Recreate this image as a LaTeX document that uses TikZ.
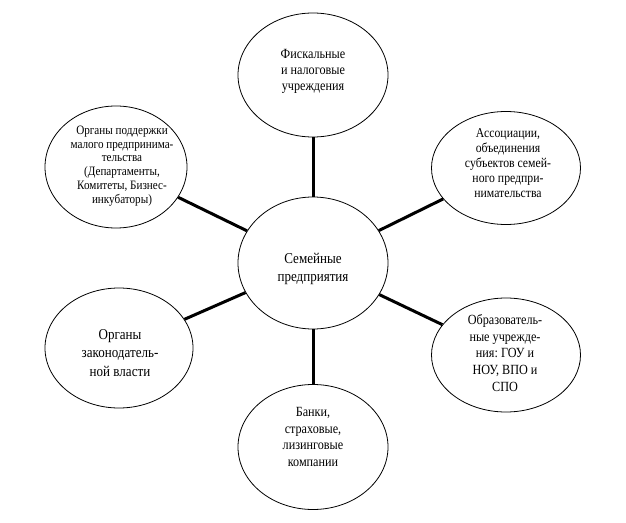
\documentclass[tikz,border=0pt]{standalone}
\usepackage{fontspec}
\setmainfont{Liberation Serif}[FakeStretch=0.87]
\frenchspacing
\usetikzlibrary{shapes.geometric}
\begin{document}
\begin{tikzpicture}[x=1bp,y=-1bp,
  ell/.style={draw=black, line width=0.8bp, shape=ellipse, inner sep=0pt},
  txt/.style={align=center, inner sep=0pt},
  conn/.style={draw=black, line width=3bp}]
\useasboundingbox (0,0) rectangle (626,523);
% ellipses
\node[ell, minimum width=150bp, minimum height=132bp] (c)  at (313,263) {};
\node[ell, minimum width=150bp, minimum height=124bp] (t)  at (313,75) {};
\node[ell, minimum width=150bp, minimum height=125bp] (b)  at (313,447) {};
\node[ell, minimum width=142bp, minimum height=122bp] (lt) at (116,167) {};
\node[ell, minimum width=148bp, minimum height=120bp] (lb) at (119,348) {};
\node[ell, minimum width=149bp, minimum height=113bp] (rt) at (506,168) {};
\node[ell, minimum width=149bp, minimum height=114bp] (rb) at (506,355) {};
% texts
\node[txt, font=\fontsize{15bp}{18bp}\selectfont] (ct) at (313,269) {Семейные\\предприятия};
\node[txt, font=\fontsize{14bp}{16bp}\selectfont] (tt) at (313,71) {Фискальные\\и налоговые\\учреждения};
\node[txt, font=\fontsize{14bp}{16.7bp}\selectfont] (bt) at (313,437) {Банки,\\страховые,\\лизинговые\\компании};
\node[txt, font=\fontsize{12.8bp}{13.8bp}\selectfont] (ltt) at (122,166) {Органы поддержки\\малого предпринима-\\тельства\\(Департаменты,\\Комитеты, Бизнес-\\инкубаторы)};
\node[txt, font=\fontsize{15bp}{18.5bp}\selectfont] (lbt) at (120,353) {Органы\\законодатель-\\ной власти};
\node[txt, font=\fontsize{13.5bp}{15bp}\selectfont] (rtt) at (508,163) {Ассоциации,\\объединения\\субъектов семей-\\ного предпри-\\нимательства};
\node[txt, font=\fontsize{14bp}{16.7bp}\selectfont] (rbt) at (505,353) {Образователь-\\ные учрежде-\\ния: ГОУ и\\НОУ, ВПО и\\СПО};
% connectors
\draw[conn] (c) -- (t);
\draw[conn] (c) -- (b);
\draw[conn] (c) -- (lt);
\draw[conn] (c) -- (lb);
\draw[conn] (c) -- (rt);
\draw[conn] (c) -- (rb);
\end{tikzpicture}
\end{document}
